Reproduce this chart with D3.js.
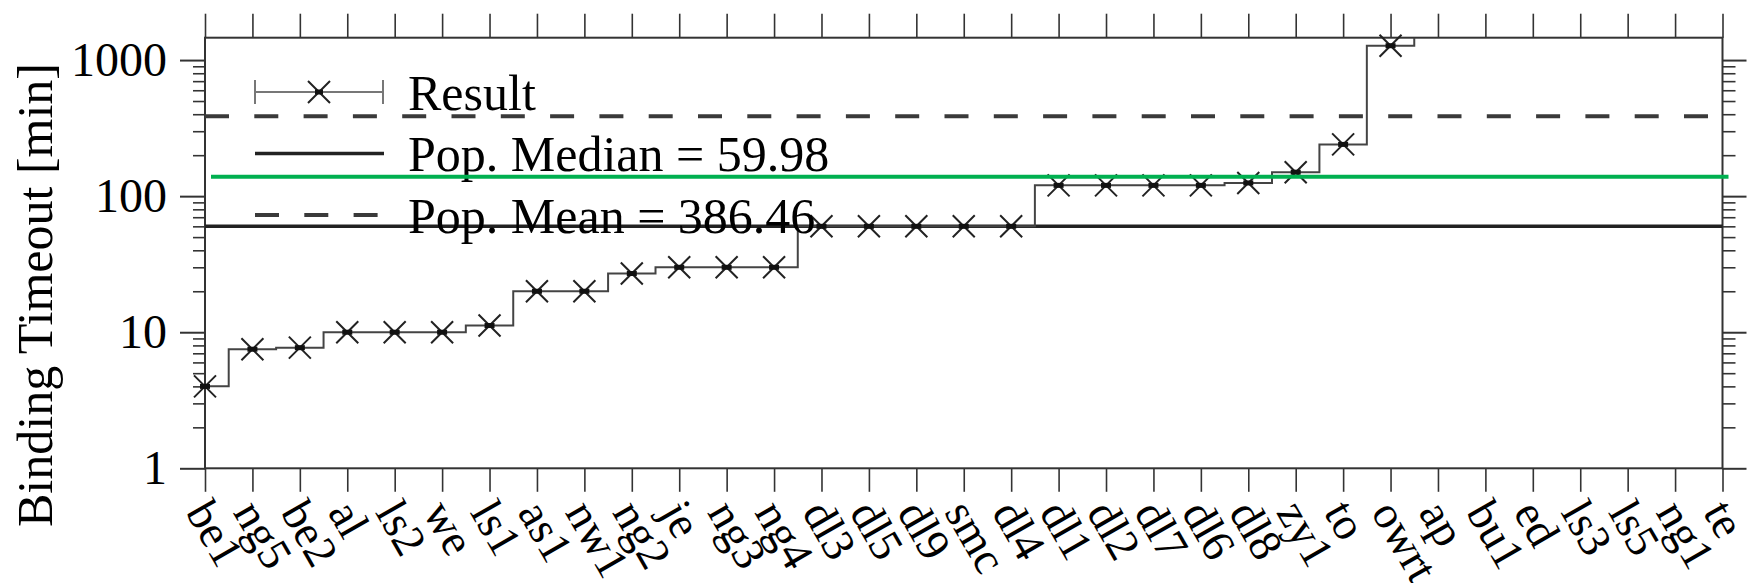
<!DOCTYPE html>
<html>
<head>
<meta charset="utf-8">
<script src="https://cdn.jsdelivr.net/npm/d3@7"></script>
<style>
  body { margin: 0; background: #fff; }
  text { font-family: "Liberation Serif", "Times New Roman", serif; fill: #000; }
</style>
</head>
<body>
<script>
const categories = ['be1', 'ng5', 'be2', 'al', 'ls2', 'we', 'ls1', 'as1', 'nw1', 'ng2', 'je', 'ng3', 'ng4',
  'dl3', 'dl5', 'dl9', 'smc', 'dl4', 'dl1', 'dl2', 'dl7', 'dl6', 'dl8', 'zy1', 'to', 'owrt',
  'ap', 'bu1', 'ed', 'ls3', 'ls5', 'ng1', 'te']
// minutes; 'ap' leaves the top of the plot
const timeouts = [4, 7.5, 7.7, 10, 10, 10, 11.2, 20, 20, 27, 30, 30, 30,
  60, 60, 60, 60, 60, 120, 120, 120, 120, 125, 150, 240, 1275, 5000]
const yTicks = [1, 10, 100, 1000]
const popMedian = 59.98
const popMean = 386.46
const highlight = 139
const legendLabels = ['Result', 'Pop. Median = ' + popMedian, 'Pop. Mean = ' + popMean]

const width = 1747, height = 583
const margin = { top: 37.7, right: 24.5, bottom: 114.7, left: 205 }

const svg = d3.select('body').append('svg')
  .attr('width', width)
  .attr('height', height)

const x = d3.scalePoint().domain(categories).range([margin.left, width - margin.right])
const y = d3.scaleLog().domain([1, 1460]).range([height - margin.bottom, margin.top])

const minor = y.ticks().filter(d => !yTicks.includes(d))

svg.append('clipPath').attr('id', 'plot')
  .append('rect')
  .attr('x', margin.left).attr('y', margin.top)
  .attr('width', width - margin.left - margin.right)
  .attr('height', height - margin.top - margin.bottom)

const tickStyle = (g, w) => {
  g.select('.domain').remove()
  g.selectAll('.tick line').attr('stroke', '#333').attr('stroke-width', w)
}

// left / right axes
svg.append('g').attr('transform', `translate(${margin.left},0)`)
  .call(d3.axisLeft(y).tickValues(yTicks).tickSize(25).tickPadding(13).tickFormat(d3.format('d')))
  .call(g => tickStyle(g, 2))
  .call(g => g.selectAll('text').attr('font-size', 48).attr('font-family', '"Liberation Serif", serif'))
svg.append('g').attr('transform', `translate(${margin.left},0)`)
  .call(d3.axisLeft(y).tickValues(minor).tickSize(12).tickFormat(''))
  .call(g => tickStyle(g, 1.6))
svg.append('g').attr('transform', `translate(${width - margin.right},0)`)
  .call(d3.axisRight(y).tickValues(yTicks).tickSize(24).tickFormat(''))
  .call(g => tickStyle(g, 2))
svg.append('g').attr('transform', `translate(${width - margin.right},0)`)
  .call(d3.axisRight(y).tickValues(minor).tickSize(13).tickFormat(''))
  .call(g => tickStyle(g, 1.6))

// top / bottom axes
svg.append('g').attr('transform', `translate(0,${margin.top})`)
  .call(d3.axisTop(x).tickSize(24).tickFormat(''))
  .call(g => tickStyle(g, 1.6))
svg.append('g').attr('transform', `translate(0,${height - margin.bottom})`)
  .call(d3.axisBottom(x).tickSize(23.5).tickFormat(''))
  .call(g => tickStyle(g, 1.6))

svg.append('g')
  .selectAll('text')
  .data(categories)
  .join('text')
  .attr('transform', d => `translate(${x(d) - 6},${height - margin.bottom + 36}) rotate(60)`)
  .attr('dy', '0.35em')
  .attr('font-size', 46)
  .text(d => d)

// frame
svg.append('rect')
  .attr('x', margin.left).attr('y', margin.top)
  .attr('width', width - margin.left - margin.right)
  .attr('height', height - margin.top - margin.bottom)
  .attr('fill', 'none')
  .attr('stroke', '#333')
  .attr('stroke-width', 2)

// reference lines
svg.append('line')
  .attr('x1', margin.left).attr('x2', width - margin.right)
  .attr('y1', y(popMean)).attr('y2', y(popMean))
  .attr('stroke', '#3a3a3a').attr('stroke-width', 4)
  .attr('stroke-dasharray', '24 25.3')
svg.append('line')
  .attr('x1', margin.left).attr('x2', width - margin.right)
  .attr('y1', y(popMedian)).attr('y2', y(popMedian))
  .attr('stroke', '#222').attr('stroke-width', 3.5)

// result step line + markers
const points = timeouts.map((v, i) => ({ c: categories[i], v }))
const line = d3.line().x(d => x(d.c)).y(d => y(d.v)).curve(d3.curveStep)

svg.append('path')
  .attr('clip-path', 'url(#plot)')
  .attr('d', line(points))
  .attr('fill', 'none')
  .attr('stroke', '#444')
  .attr('stroke-width', 2)

const marks = svg.append('g')
  .selectAll('g')
  .data(points.filter(d => d.v <= y.domain()[1]))
  .join('g')
  .attr('transform', d => `translate(${x(d.c)},${y(d.v)})`)
marks.append('path')
  .attr('d', 'M-11,-11L11,11M-11,11L11,-11')
  .attr('stroke', '#222')
  .attr('stroke-width', 2)
marks.append('rect')
  .attr('x', -5).attr('y', -2.5).attr('width', 10).attr('height', 5)
  .attr('fill', '#111')

// legend
const legend = svg.append('g')
  .selectAll('g')
  .data(legendLabels)
  .join('g')
  .attr('transform', (d, i) => `translate(255,${92 + i * 61.5})`)

legend.append('text')
  .attr('x', 153)
  .attr('dy', '0.35em')
  .attr('font-size', 50)
  .text(d => d)

const l0 = legend.filter((d, i) => i === 0)
l0.append('path')
  .attr('d', 'M0,0H128M0,-12V12M128,-12V12')
  .attr('fill', 'none')
  .attr('stroke', '#777')
  .attr('stroke-width', 2)
l0.append('path')
  .attr('d', 'M53,-11L75,11M53,11L75,-11')
  .attr('stroke', '#222')
  .attr('stroke-width', 2)
l0.append('rect')
  .attr('x', 60).attr('y', -2.5).attr('width', 8).attr('height', 5)
  .attr('fill', '#111')

legend.filter((d, i) => i === 1).append('line')
  .attr('x1', 0).attr('x2', 129)
  .attr('stroke', '#222').attr('stroke-width', 3.5)
legend.filter((d, i) => i === 2).append('line')
  .attr('x1', 0).attr('x2', 129)
  .attr('stroke', '#3a3a3a').attr('stroke-width', 4)
  .attr('stroke-dasharray', '24 25.3')

// green marker line drawn over the chart
svg.append('line')
  .attr('x1', margin.left + 6).attr('x2', width - margin.right + 6)
  .attr('y1', y(highlight)).attr('y2', y(highlight))
  .attr('stroke', '#00b050').attr('stroke-width', 4)

// y title
svg.append('text')
  .attr('transform', 'translate(52,295) rotate(-90)')
  .attr('text-anchor', 'middle')
  .attr('font-size', 50)
  .text('Binding Timeout [min]')
</script>
</body>
</html>
